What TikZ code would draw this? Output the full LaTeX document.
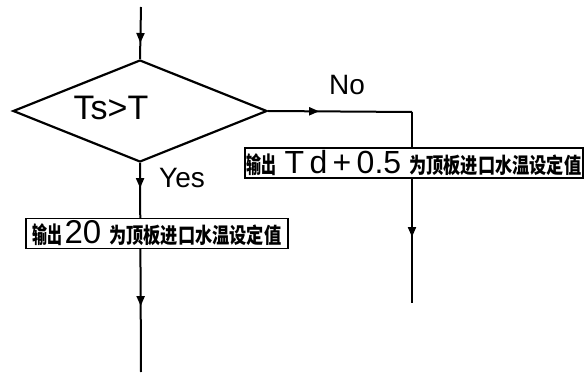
\documentclass[tikz,border=0pt]{standalone}
\usepackage{fontspec}
\setmainfont{Liberation Sans}
\newfontfamily\cjk{Noto Sans CJK SC}[FakeStretch=0.8]
\newfontfamily\cjkn{Noto Sans CJK SC}[FakeStretch=0.65]
\usetikzlibrary{shapes.geometric,arrows.meta,decorations.markings}
\tikzset{
  flowline/.style={line width=2pt},
  decbox/.style={diamond,draw,line width=2.2pt,inner sep=0pt,minimum width=254pt,minimum height=102pt},
  outbox/.style={draw,fill=white,line width=1.8pt,inner sep=0pt,minimum height=30pt},
  lbl/.style={anchor=base,inner sep=0pt,font=\fontsize{30}{30}\selectfont},
  arrowat/.style={postaction={decorate},decoration={markings,mark=at position #1 with {\arrow{Triangle[width=8pt,length=10pt]}}}},
  arrowtwo/.style 2 args={postaction={decorate},decoration={markings,mark=at position #1 with {\arrow{Triangle[width=8pt,length=10pt]}},mark=at position #2 with {\arrow{Triangle[width=8pt,length=10pt]}}}}
}
\newcommand{\zhA}[1]{{\cjkn\bfseries\fontsize{23}{23}\selectfont #1}}
\newcommand{\zhB}[1]{{\cjk\bfseries\fontsize{21.5}{21.5}\selectfont #1}}
\newcommand{\numtxt}[1]{{\fontsize{32}{32}\selectfont #1}}
\begin{document}
\begin{tikzpicture}[x=1pt,y=-1pt]
\useasboundingbox (0,0) rectangle (586,374);
% decision
\coordinate (start) at (141,7);
\node[decbox] (dec) at (140,111) {};
\node[lbl,font=\fontsize{34}{34}\selectfont] (cond) at (111,120) {Ts>T};
% no branch
\coordinate (corner) at (412,112);
\coordinate (noend) at (412,303);
\coordinate (yesend) at (141,372);
% lines
\draw[flowline,arrowat=36pt] (start) -- (dec.north);
\draw[flowline,arrowat=51pt] (dec.east) -- (corner);
\draw[flowline,arrowat=125pt] (corner) -- (noend);
\draw[flowline,arrowtwo={25pt}{143pt}] (dec.south) -- (yesend);
% labels
\node[lbl,font=\fontsize{28}{28}\selectfont] (no) at (347,95) {No};
\node[lbl,font=\fontsize{28}{28}\selectfont] (yes) at (182,188) {Yes};
% boxes
\node[outbox,minimum width=338pt] (boxtd) at (414,163)
  {\zhA{输出}\hspace{8pt}\numtxt{T\,d\,+\,0.5}\hspace{8pt}\zhB{为顶板进口水温设定值}};
\node[outbox,minimum width=262pt] (box20) at (157,233.5)
  {\zhA{输出}\hspace{2pt}{\fontsize{33}{33}\selectfont 20}\hspace{8pt}\zhB{为顶板进口水温设定值}};
\end{tikzpicture}
\end{document}
